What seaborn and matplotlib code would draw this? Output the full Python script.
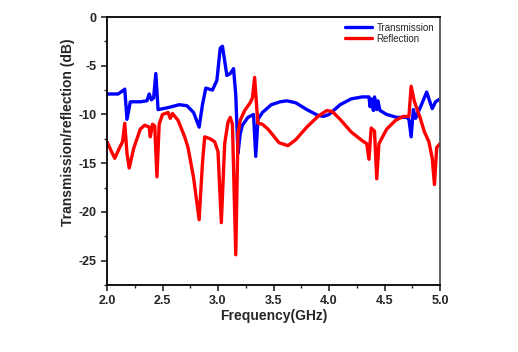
import numpy as np
import pandas as pd
import seaborn as sns
import matplotlib
matplotlib.use("Agg")
import matplotlib.pyplot as plt
from matplotlib.ticker import MultipleLocator

# transmission curve (GHz, dB)
trans_freq = [2.00, 2.10, 2.15, 2.16, 2.18, 2.21, 2.30, 2.36, 2.38, 2.40, 2.42, 2.44, 2.46,
              2.55, 2.65, 2.72, 2.78, 2.83, 2.86, 2.89, 2.95, 2.99, 3.02, 3.04, 3.06, 3.08,
              3.11, 3.14, 3.16, 3.18, 3.20, 3.22, 3.27, 3.32, 3.34, 3.36, 3.40, 3.48, 3.56,
              3.62, 3.70, 3.80, 3.90, 3.95, 4.00, 4.10, 4.20, 4.30, 4.36, 4.37, 4.38, 4.40,
              4.41, 4.43, 4.44, 4.46, 4.52, 4.61, 4.70, 4.72, 4.74, 4.76, 4.78, 4.84, 4.88,
              4.90, 4.93, 4.96, 5.00]
trans_db = [-7.9, -7.9, -7.5, -7.4, -10.5, -8.7, -8.7, -8.6, -7.9, -8.5, -8.3, -5.8, -9.5,
            -9.3, -9.0, -9.1, -9.8, -11.3, -9.0, -7.3, -7.5, -6.5, -3.2, -3.0, -4.5, -6.0,
            -5.8, -5.3, -8.0, -14.0, -12.0, -11.1, -10.3, -10.0, -14.3, -10.5, -9.8, -9.0, -8.7,
            -8.6, -8.8, -9.5, -10.1, -10.2, -10.0, -9.0, -8.4, -8.2, -8.2, -9.2, -8.4, -9.6,
            -8.2, -9.5, -8.6, -9.6, -10.0, -10.3, -10.3, -10.5, -12.3, -9.5, -10.4, -8.8, -7.7,
            -8.4, -9.4, -8.7, -8.4]

# reflection curve
refl_freq = [2.00, 2.04, 2.07, 2.11, 2.14, 2.16, 2.18, 2.20, 2.24, 2.30, 2.34, 2.38, 2.39,
             2.41, 2.43, 2.45, 2.47, 2.50, 2.55, 2.57, 2.59, 2.64, 2.70, 2.73, 2.78, 2.83,
             2.86, 2.88, 2.93, 2.97, 3.00, 3.03, 3.06, 3.09, 3.11, 3.13, 3.16, 3.18, 3.20,
             3.24, 3.29, 3.31, 3.33, 3.35, 3.36, 3.40, 3.45, 3.50, 3.55, 3.63, 3.70, 3.80,
             3.90, 3.98, 4.03, 4.10, 4.20, 4.30, 4.34, 4.36, 4.38, 4.41, 4.43, 4.45, 4.52,
             4.60, 4.67, 4.72, 4.74, 4.77, 4.82, 4.86, 4.90, 4.93, 4.95, 4.97, 5.00]
refl_db = [-12.8, -13.8, -14.5, -13.5, -12.8, -10.9, -14.0, -15.5, -13.5, -11.5, -11.1, -11.3, -12.3,
           -11.0, -11.2, -16.4, -11.0, -10.0, -9.8, -10.4, -9.9, -10.6, -12.3, -13.4, -16.5, -20.8,
           -15.0, -12.3, -12.5, -12.8, -13.8, -21.1, -13.0, -10.8, -10.3, -11.0, -24.4, -12.0, -10.6,
           -9.6, -8.8, -8.3, -6.2, -9.5, -10.9, -11.0, -11.5, -12.2, -12.9, -13.2, -12.6, -11.3,
           -10.2, -9.6, -9.7, -10.5, -11.8, -12.7, -13.0, -14.6, -11.4, -11.7, -16.6, -13.0, -11.5,
           -10.6, -10.2, -10.2, -7.1, -8.7, -10.3, -11.8, -12.8, -14.5, -17.2, -13.4, -13.0]

x_ticks = [2.0, 2.5, 3.0, 3.5, 4.0, 4.5, 5.0]
y_ticks = [0, -5, -10, -15, -20, -25]

sns.set_style("ticks")
plt.rcParams['font.family'] = ['Liberation Sans', 'DejaVu Sans']
plt.rcParams['axes.unicode_minus'] = False

fig = plt.figure(figsize=(5.18, 3.52), dpi=100)
ax = fig.add_axes([107 / 518, 1 - 285 / 352, 333 / 518, 268 / 352])

sns.lineplot(x=trans_freq, y=trans_db, color="#0000ff", lw=2.4, label="Transmission", ax=ax)
sns.lineplot(x=refl_freq, y=refl_db, color="#ff0000", lw=2.4, label="Reflection", ax=ax)

ax.set_xlim(2.0, 5.0)
ax.set_ylim(-27.5, 0)
ax.set_xticks(x_ticks)
ax.set_xticklabels([f"{t:.1f}" for t in x_ticks])
ax.set_yticks(y_ticks)
ax.xaxis.set_minor_locator(MultipleLocator(0.25))
ax.yaxis.set_minor_locator(MultipleLocator(2.5))
ax.tick_params(which="major", direction="out", length=4, width=1.2, labelsize=9)
ax.tick_params(which="minor", direction="out", length=2.5, width=1.0)
for lab in ax.get_xticklabels() + ax.get_yticklabels():
    lab.set_fontweight("bold")

for side in ["left", "bottom", "top", "right"]:
    ax.spines[side].set_visible(True)
    ax.spines[side].set_linewidth(1.3)
    ax.spines[side].set_color("black")
ax.spines["right"].set_color("#555555")

ax.set_xlabel("Frequency(GHz)", fontsize=10, fontweight="bold", labelpad=1)
ax.set_ylabel("Transmission/reflection (dB)", fontsize=10, fontweight="bold")
# label sits a bit above the axes centre in the reference
ax.yaxis.set_label_coords(-0.095, 0.57)

ax.legend(loc="upper right", frameon=False, fontsize=7, handlelength=2.7,
          handletextpad=0.5, labelspacing=0.1, borderaxespad=0.2)

fig.savefig("out.png", dpi=100)
